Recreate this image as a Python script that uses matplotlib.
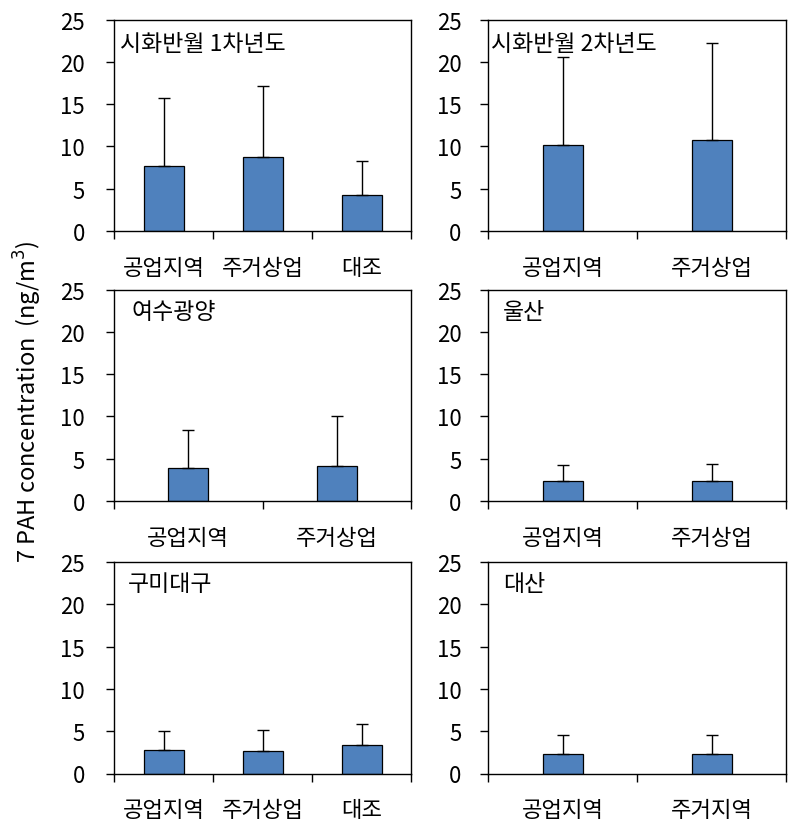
import matplotlib
matplotlib.use("Agg")
import matplotlib.pyplot as plt

plt.rcParams['font.family'] = ['Noto Sans CJK KR', 'DejaVu Sans']

# ── 데이터 ────────────────────────────────────────────────
titles = ['시화반월 1차년도', '시화반월 2차년도', '여수광양', '울산', '구미대구', '대산']
cats = [
    ['공업지역', '주거상업', '대조'],
    ['공업지역', '주거상업'],
    ['공업지역', '주거상업'],
    ['공업지역', '주거상업'],
    ['공업지역', '주거상업', '대조'],
    ['공업지역', '주거지역'],
]
means = [
    [7.7, 8.7, 4.3],
    [10.2, 10.7],
    [3.9, 4.1],
    [2.4, 2.4],
    [2.8, 2.7, 3.4],
    [2.3, 2.3],
]
sds = [
    [8.0, 8.4, 4.0],
    [10.4, 11.5],
    [4.5, 6.0],
    [1.9, 2.0],
    [2.2, 2.4, 2.5],
    [2.3, 2.3],
]
yticks = [0, 5, 10, 15, 20, 25]

BAR_COLOR = '#4F81BD'
W, H = 801, 837

# 패널 위치 (픽셀: 왼쪽, 오른쪽, 위, 아래)
cols = [(114, 411), (488, 786)]
rows = [(20.5, 232), (290.5, 502), (563, 774.5)]
title_dx = [0.02, 0.01, 0.06, 0.05, 0.047, 0.05]

fig = plt.figure(figsize=(W / 100, H / 100), dpi=100)

for i in range(6):
    r, c = divmod(i, 2)
    x0, x1 = cols[c]
    top, bot = rows[r]
    ax = fig.add_axes([x0 / W, 1 - bot / H, (x1 - x0) / W, (bot - top) / H])

    n = len(cats[i])
    xs = list(range(n))
    bw = 40 / ((x1 - x0) / n)
    ax.bar(xs, means[i], width=bw, color=BAR_COLOR, edgecolor='black',
           linewidth=0.9, zorder=2)
    ax.errorbar(xs, means[i], yerr=[[0] * n, sds[i]], fmt='none',
                ecolor='black', elinewidth=1.0, capsize=4, capthick=1.0,
                zorder=3)

    ax.set_xlim(-0.5, n - 0.5)
    ax.set_ylim(0, 25)
    ax.set_yticks(yticks)

    # x축: 경계에 눈금, 가운데에 라벨
    ax.set_xticks([k - 0.5 for k in range(n + 1)])
    ax.set_xticklabels([])
    ax.set_xticks(xs, minor=True)
    ax.set_xticklabels(cats[i], minor=True, fontsize=16)
    ax.tick_params(axis='x', which='major', direction='out', length=6, width=1.0)
    ax.tick_params(axis='x', which='minor', length=0, pad=18)
    ax.tick_params(axis='y', direction='out', length=6, width=1.0,
                   labelsize=16, pad=15 if c == 0 else 13)

    for sp in ax.spines.values():
        sp.set_linewidth(1.0)

    ty = 0.887 if r == 0 else 0.896
    ax.text(title_dx[i], ty, titles[i], transform=ax.transAxes, fontsize=16.5,
            ha='left', va='center', zorder=4)

fig.text(28 / W, 1 - 402 / H, '7 PAH concentration  (ng/m$^{3}$)',
         rotation=90, ha='center', va='center', fontsize=17)

fig.savefig('out.png', dpi=100)
